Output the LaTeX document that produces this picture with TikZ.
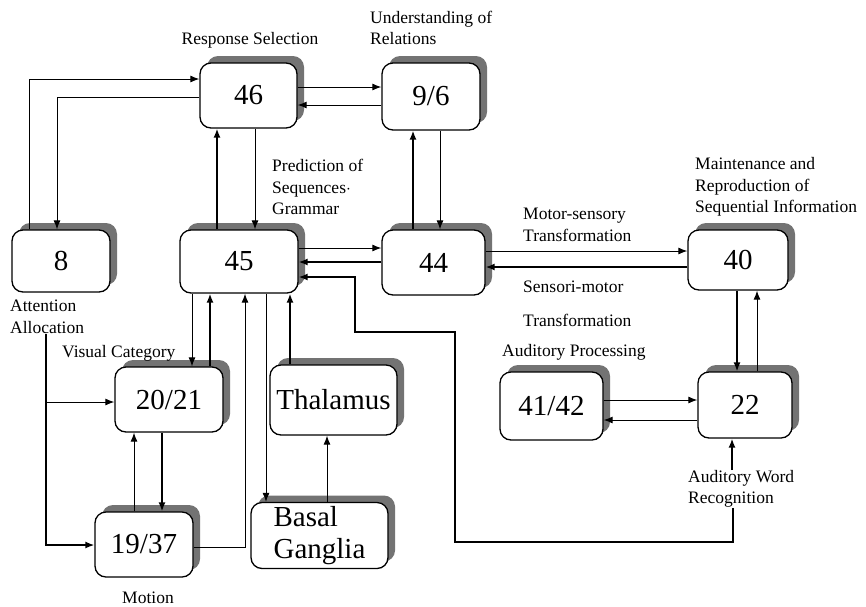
\documentclass[tikz,border=0pt]{standalone}
\usepackage{fontspec}
\setmainfont{Liberation Serif}
\usetikzlibrary{arrows.meta,shadows}
\begin{document}
\begin{tikzpicture}[x=1pt,y=-1pt,
  box/.style={draw, line width=1.3pt, rounded corners=11pt, fill=white,
    font=\fontsize{29}{34}\selectfont, inner sep=0pt, align=center,
    drop shadow={shadow xshift=7pt, shadow yshift=7pt, fill=black!55, opacity=1}},
  lab/.style={font=\fontsize{17.5}{21.5}\selectfont, inner sep=0pt, align=left},
  arr/.style={-{Latex[length=9pt,width=7pt]}, line width=1pt},
  tarr/.style={-{Latex[length=9pt,width=7pt]}, line width=1.5pt},
]
\useasboundingbox (0,0) rectangle (866,606);

% boxes
\node[box, minimum width=97pt, minimum height=65pt] (n46) at (248.5,95.5) {46};
\node[box, minimum width=98pt, minimum height=67pt] (n96) at (431,96.5) {9/6};
\node[box, minimum width=98pt, minimum height=62pt] (n8) at (61,261) {8};
\node[box, minimum width=118pt, minimum height=63pt] (n45) at (239,261.5) {45};
\node[box, minimum width=103pt, minimum height=65pt] (n44) at (433.5,262.5) {44};
\node[box, minimum width=100pt, minimum height=60pt] (n40) at (738,260) {40};
\node[box, minimum width=108pt, minimum height=65pt] (n2021) at (169,399.5) {20/21};
\node[box, minimum width=127pt, minimum height=70pt] (nthal) at (333.5,400) {Thalamus};
\node[box, minimum width=98pt, minimum height=65pt] (n1937) at (144,544.5) {19/37};
\node[box, minimum width=137pt, minimum height=65pt, align=left] (nbasal) at (319.5,535.5) {\raisebox{-5pt}{\begin{tabular}{@{}l@{}}Basal\\[-2pt]Ganglia\end{tabular}}};
\node[box, minimum width=103pt, minimum height=68pt] (n4142) at (551.5,406) {41/42};
\node[box, minimum width=94pt, minimum height=66pt] (n22) at (745,405) {22};

% labels
\node[lab, align=center] (lresp) at (250,40) {Response Selection};
\node[lab, anchor=west] (lund) at (370,28) {Understanding of\\Relations};
\node[lab, anchor=west] (lpred) at (272,187) {Prediction of\\Sequences$\cdot$\\Grammar};
\node[lab, anchor=west] (att) at (10,317) {Attention\\Allocation};
\node[lab, anchor=west] (lvis) at (62,353) {Visual Category};
\node[lab] (lmot) at (148,598) {Motion};
\node[lab, anchor=west] (lms) at (523,225) {Motor-sensory\\Transformation};
\node[lab, anchor=west] (lmaint) at (695,187) {Maintenance and\\Reproduction of\\Sequential Information};
\node[lab, anchor=west] (lsm1) at (523,287) {Sensori-motor};
\node[lab, anchor=west] (lsm2) at (523,320) {Transformation};
\node[lab, anchor=west] (laud) at (502,352) {Auditory Processing};
\node[lab, anchor=west] (awr) at (688,489) {Auditory Word\\Recognition};

% 46 <-> 9/6
\draw[arr] (n46.east |- 0,87) -- (n96.west |- 0,87);
\draw[arr] (n96.west |- 0,105) -- (n46.east |- 0,105);
% 45 <-> 46
\draw[tarr] (n45.north -| 217,0) -- (n46.south -| 217,0);
\draw[arr] (n46.south -| 255,0) -- (n45.north -| 255,0);
% 44 <-> 9/6
\draw[tarr] (n44.north -| 413,0) -- (n96.south -| 413,0);
\draw[arr] (n96.south -| 440,0) -- (n44.north -| 440,0);
% 8 <-> 46
\draw[arr] (n8.north -| 29,0) |- (n46.west |- 0,79);
\draw[arr] (n46.west |- 0,97) -| (n8.north -| 57,0);
% 45 <-> 44
\draw[arr] (n45.east |- 0,248) -- (n44.west |- 0,248);
\draw[tarr] (n44.west |- 0,262) -- (n45.east |- 0,262);
% 44 <-> 40
\draw[arr] (n44.east |- 0,251) -- (n40.west |- 0,251);
\draw[tarr] (n40.west |- 0,267) -- (n44.east |- 0,267);
% 40 <-> 22
\draw[tarr] (n40.south -| 737,0) -- (n22.north -| 737,0);
\draw[arr] (n22.north -| 757,0) -- (n40.south -| 757,0);
% 41/42 <-> 22
\draw[arr] (n4142.east |- 0,400) -- (n22.west |- 0,400);
\draw[arr] (n22.west |- 0,420) -- (n4142.east |- 0,420);
% auditory word recognition
\draw[tarr] (awr.north -| 732,0) -- (n22.south -| 732,0);
\draw[tarr] (awr.south -| 733,0) -- (733,542) -| (455,332) -| (355,277) -- (n45.east |- 0,277);
% 45 <-> 20/21
\draw[arr] (n45.south -| 192,0) -- (n2021.north -| 192,0);
\draw[tarr] (n2021.north -| 210,0) -- (n45.south -| 210,0);
% 19/37 -> 45
\draw[arr] (n1937.east |- 0,547) -| (n45.south -| 245,0);
% 45 -> basal
\draw[arr] (n45.south -| 266,0) -- (nbasal.north -| 266,0);
% thalamus -> 45
\draw[tarr] (nthal.north -| 290,0) -- (n45.south -| 290,0);
% basal -> thalamus
\draw[arr] (nbasal.north -| 327,0) -- (nthal.south -| 327,0);
% 19/37 <-> 20/21
\draw[arr] (n1937.north -| 134,0) -- (n2021.south -| 134,0);
\draw[tarr] (n2021.south -| 162,0) -- (n1937.north -| 162,0);
% attention allocation
\draw[tarr] (att.south -| 46,0) |- (n1937.west |- 0,545);
\draw[arr] (46,402) -- (n2021.west |- 0,402);
\end{tikzpicture}
\end{document}
